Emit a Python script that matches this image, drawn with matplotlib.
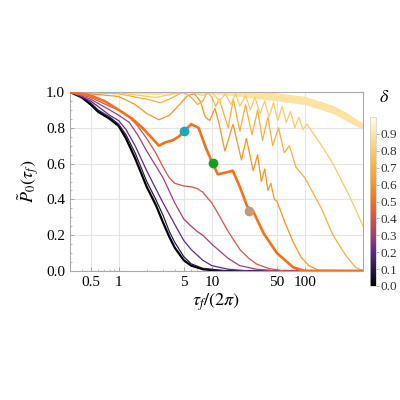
import numpy as np
import matplotlib
matplotlib.use("Agg")
import matplotlib.pyplot as plt
from matplotlib.ticker import FixedLocator, NullFormatter
from matplotlib.colors import LinearSegmentedColormap

plt.rcParams['font.family'] = ['Liberation Serif', 'DejaVu Serif']
plt.rcParams['mathtext.fontset'] = 'stix'

deltas = [0.0, 0.1, 0.2, 0.3, 0.4, 0.5, 0.6, 0.7, 0.8]
x_d00 = [0.3, 0.4, 0.5, 0.6, 0.8, 1.0, 1.2, 1.5, 2, 2.5, 3, 3.5, 4, 5, 6, 8, 12, 420]
y_d00 = [1.0, 0.97, 0.93, 0.89, 0.85, 0.81, 0.74, 0.63, 0.47, 0.37, 0.27, 0.19, 0.13, 0.06, 0.03, 0.01, 0.0, 0.0]
x_d01 = [0.3, 0.4, 0.5, 0.6, 0.8, 1.0, 1.2, 1.5, 2, 2.5, 3, 3.5, 4, 5, 6, 8, 15, 420]
y_d01 = [1.0, 0.975, 0.94, 0.9, 0.86, 0.82, 0.76, 0.66, 0.5, 0.4, 0.31, 0.22, 0.16, 0.08, 0.04, 0.015, 0.0, 0.0]
x_d02 = [0.3, 0.5, 0.8, 1.0, 1.2, 1.5, 2, 2.5, 3, 4, 5, 6, 8, 10, 15, 25, 420]
y_d02 = [1.0, 0.95, 0.87, 0.84, 0.79, 0.7, 0.56, 0.46, 0.38, 0.26, 0.17, 0.12, 0.06, 0.03, 0.01, 0.0, 0.0]
x_d03 = [0.3, 0.5, 0.8, 1.0, 1.3, 1.6, 2, 3, 4, 5, 6, 7, 8, 10, 15, 20, 30, 50, 420]
y_d03 = [1.0, 0.96, 0.9, 0.87, 0.83, 0.76, 0.67, 0.52, 0.38, 0.29, 0.25, 0.22, 0.2, 0.15, 0.07, 0.03, 0.01, 0.0, 0.0]
x_d04 = [0.3, 0.5, 0.8, 1.0, 1.3, 1.6, 2, 2.5, 3, 3.5, 4, 5, 6, 7, 8, 10, 12, 15, 20, 25, 30, 40, 60, 420]
y_d04 = [1.0, 0.97, 0.92, 0.9, 0.86, 0.81, 0.74, 0.66, 0.58, 0.52, 0.49, 0.475, 0.47, 0.46, 0.44, 0.38, 0.31, 0.22, 0.12, 0.07, 0.04, 0.015, 0.0, 0.0]
x_d05 = [0.3, 0.5, 0.7, 1.0, 1.4, 1.8, 2.3, 2.7, 3.2, 3.8, 4.4, 5.0, 6.0, 7.2, 8.6, 10, 11.6, 14, 16.8, 20, 24, 28, 36, 50, 75, 100, 420]
y_d05 = [1.0, 0.98, 0.95, 0.9, 0.85, 0.8, 0.74, 0.7, 0.72, 0.73, 0.75, 0.78, 0.82, 0.8, 0.69, 0.61, 0.54, 0.55, 0.56, 0.47, 0.36, 0.33, 0.21, 0.1, 0.02, 0.0, 0.0]
x_d06 = [0.3, 1, 1.5, 2, 2.7, 3.5, 4.5, 5.5, 6.5, 7.5, 8.5, 9.5, 10.8, 12, 13.8, 16.9, 20.8, 23.5, 27.8, 31, 34, 37, 40, 43, 47, 50, 60, 75, 90, 110, 140, 420]
y_d06 = [1.0, 0.975, 0.93, 0.88, 0.845, 0.87, 0.93, 0.98, 0.99, 0.95, 0.86, 0.84, 0.91, 0.82, 0.67, 0.82, 0.62, 0.74, 0.56, 0.65, 0.5, 0.57, 0.45, 0.49, 0.4, 0.39, 0.28, 0.16, 0.08, 0.03, 0.005, 0.0]
x_d07 = [0.3, 1, 2, 2.8, 3.5, 4.9, 6, 7, 8, 9, 10, 11, 12, 15, 17, 20, 23, 27, 31, 35, 40, 45, 52, 60, 68, 80, 100, 150, 200, 280, 350, 420]
y_d07 = [1.0, 0.99, 0.96, 0.94, 0.96, 1.0, 0.97, 0.93, 0.95, 1.0, 0.97, 0.92, 0.96, 0.8, 0.96, 0.78, 0.93, 0.76, 0.9, 0.73, 0.86, 0.7, 0.8, 0.66, 0.7, 0.58, 0.52, 0.35, 0.2, 0.08, 0.02, 0.0]
x_d08 = [0.3, 1, 2.5, 4, 6, 8, 10, 12, 14, 16, 18, 20, 23, 26, 29, 33, 37, 41, 46, 51, 57, 63, 70, 78, 86, 95, 105, 130, 160, 200, 250, 300, 360, 420]
y_d08 = [1.0, 0.995, 0.97, 0.99, 1.0, 0.98, 1.0, 0.95, 0.99, 0.93, 0.99, 0.92, 0.98, 0.9, 0.97, 0.88, 0.95, 0.86, 0.94, 0.84, 0.92, 0.83, 0.89, 0.8, 0.86, 0.79, 0.82, 0.75, 0.68, 0.6, 0.5, 0.42, 0.33, 0.25]
x_d09 = [0.3, 1, 2.5, 5, 10, 20, 50, 100, 200, 300, 420]
y_d09_hi = [1.0, 1.0, 0.995, 1.0, 1.0, 1.0, 0.99, 0.97, 0.92, 0.87, 0.82]
y_d09_lo = [1.0, 0.995, 0.985, 0.995, 0.99, 0.975, 0.95, 0.93, 0.88, 0.83, 0.79]

dot_x = [5.0, 10.2, 25.0]
dot_y = [0.78, 0.605, 0.333]
dot_colors = ['#1aa9b8', '#14a01e', '#c49a7a']

xs = [x_d00, x_d01, x_d02, x_d03, x_d04, x_d05, x_d06, x_d07, x_d08]
ys = [y_d00, y_d01, y_d02, y_d03, y_d04, y_d05, y_d06, y_d07, y_d08]

cmap = LinearSegmentedColormap.from_list('sunset', [
    (0.0, '#000000'), (0.1, '#2a1850'), (0.2, '#5b2a8a'), (0.3, '#a53c78'),
    (0.4, '#d9533f'), (0.5, '#f4701a'), (0.6, '#fb9420'), (0.72, '#fbb43c'),
    (0.85, '#fdd880'), (0.95, '#fef0c8'), (1.0, '#fffdf6')])

fig = plt.figure(figsize=(4, 4), dpi=100)
ax = fig.add_axes([0.175, 0.3225, 0.7325, 0.4475])

c9 = cmap(0.88)
ax.fill_between(x_d09, y_d09_lo, y_d09_hi, color=c9, alpha=0.9, lw=0, zorder=1)
ax.plot(x_d09, y_d09_hi, color=c9, lw=0.8, zorder=1)
for d, x, y in zip(deltas, xs, ys):
    lw = 1.9 if d == 0.5 else (1.6 if d == 0.0 else 0.9)
    ax.plot(x, y, color=cmap(d), lw=lw, zorder=3 if d == 0.5 else 2)
for px, py, c in zip(dot_x, dot_y, dot_colors):
    ax.plot(px, py, 'o', color=c, ms=6, zorder=5)

ax.set_xscale('log')
ax.set_xlim(0.3, 420)
ax.set_ylim(0, 1.0)
ax.set_xticks([0.5, 1, 5, 10, 50, 100])
ax.set_xticklabels(['0.5', '1', '5', '10', '50', '100'])
ax.xaxis.set_minor_formatter(NullFormatter())
ax.set_yticks([0, 0.2, 0.4, 0.6, 0.8, 1.0])
ax.set_yticklabels(['0.0', '0.2', '0.4', '0.6', '0.8', '1.0'])
ax.yaxis.set_minor_locator(FixedLocator(np.arange(0, 1.0, 0.05)))
ax.grid(True, which='major', color='#e4e4e4', lw=0.8)
ax.tick_params(labelsize=11, direction='in', length=3, width=0.6, colors='#999999', labelcolor='black')
ax.tick_params(which='minor', direction='in', length=1.5, width=0.5, colors='#999999')
for s in ax.spines.values():
    s.set_color('#aaaaaa')
    s.set_linewidth(0.8)
ax.set_xlabel(r'$\tau_f/(2\pi)$', fontsize=13, labelpad=2)
ax.set_ylabel(r'$\tilde{P}_0(\tau_f)$', fontsize=13, labelpad=4)

cax = fig.add_axes([0.925, 0.285, 0.015, 0.4225])
sm = matplotlib.cm.ScalarMappable(cmap=cmap, norm=plt.Normalize(0, 1))
cb = fig.colorbar(sm, cax=cax, ticks=np.arange(0, 1.0, 0.1))
cb.ax.set_yticklabels([f'{t:.1f}' for t in np.arange(0, 1.0, 0.1)])
cb.ax.tick_params(labelsize=9.5, length=2, width=0.5, pad=1, colors='#999999', labelcolor='#333333')
cb.outline.set_edgecolor('#cccccc')
cb.outline.set_linewidth(0.5)
fig.text(0.96, 0.745, r'$\delta$', fontsize=13, ha='center')

fig.savefig('out.png', dpi=100)
